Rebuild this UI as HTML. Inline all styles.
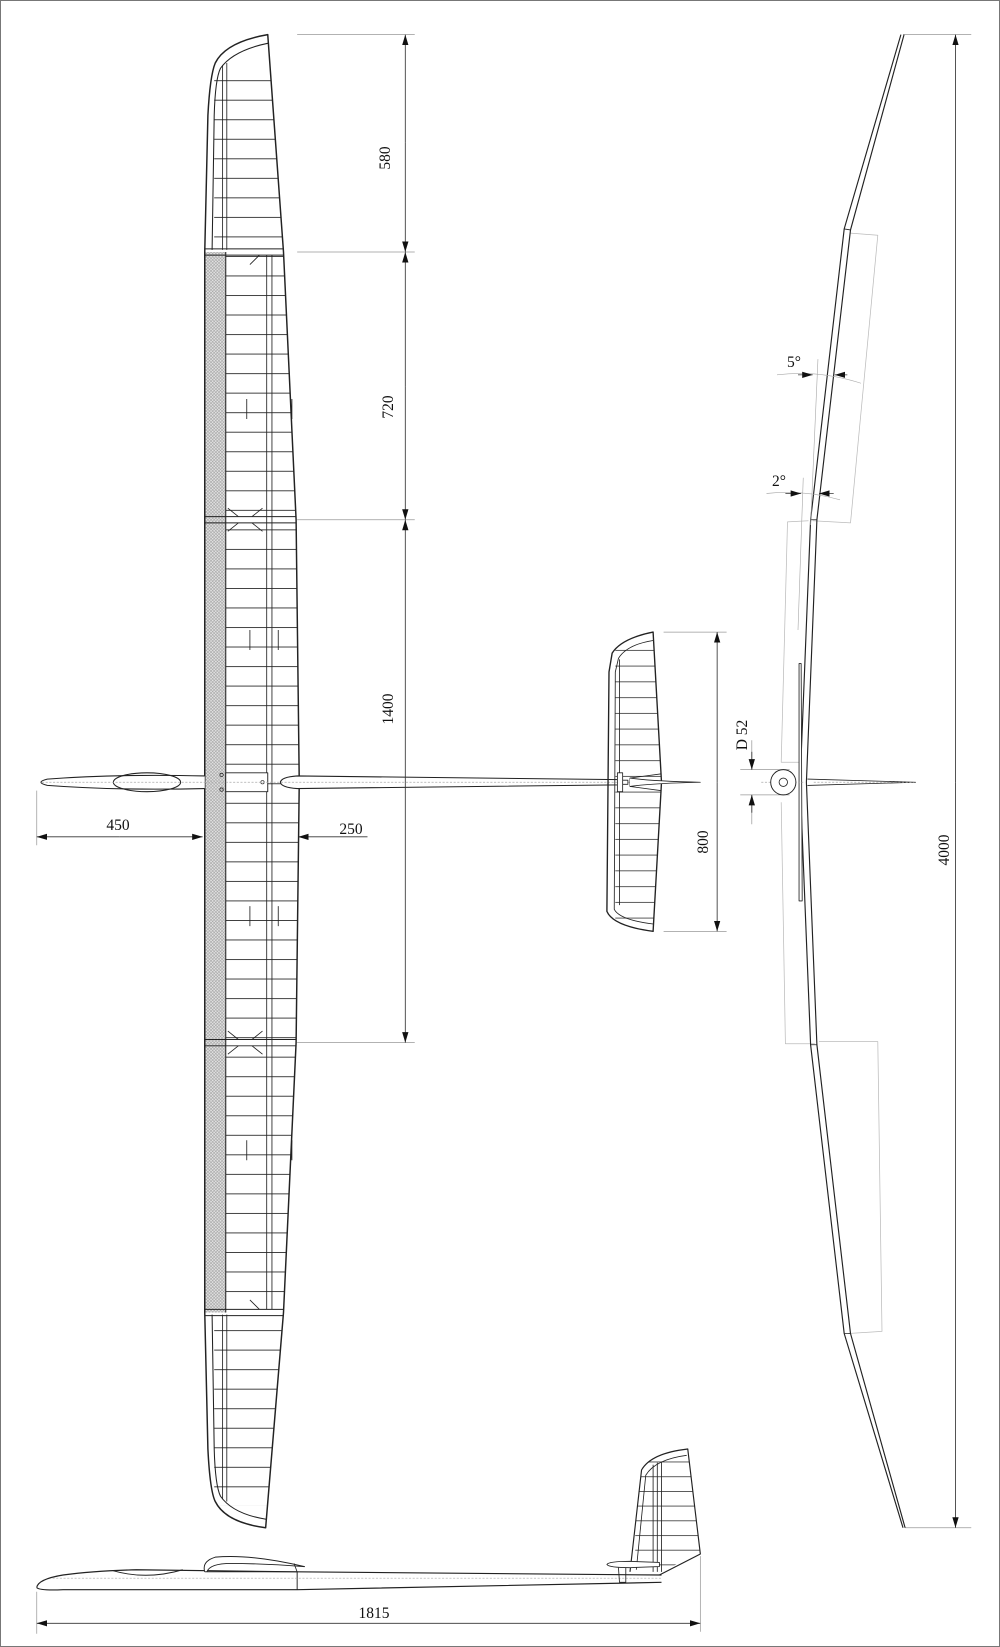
<!DOCTYPE html>
<html><head><meta charset="utf-8"><style>
html,body{margin:0;padding:0;background:#fff}
svg{display:block}
text{font-family:"Liberation Serif",serif;font-size:15.5px;fill:#111}
</style></head><body>
<svg width="1000" height="1647" viewBox="0 0 1000 1647" xmlns="http://www.w3.org/2000/svg">
<defs>
<pattern id="ribs" patternUnits="userSpaceOnUse" width="200" height="18.6" y="2">
<line x1="0" y1="0.4" x2="200" y2="0.4" stroke="#222" stroke-width="0.8"/>
</pattern>
<pattern id="ribs2" patternUnits="userSpaceOnUse" width="200" height="15" y="4">
<line x1="0" y1="0.4" x2="200" y2="0.4" stroke="#222" stroke-width="0.7"/>
</pattern>
<pattern id="ribs3" patternUnits="userSpaceOnUse" width="200" height="14" y="6">
<line x1="0" y1="0.4" x2="200" y2="0.4" stroke="#222" stroke-width="0.7"/>
</pattern>
<pattern id="hatch" patternUnits="userSpaceOnUse" width="3" height="3">
<rect width="3" height="3" fill="#e4e4e4"/>
<path d="M0,3L3,0M0,0L3,3" stroke="#999" stroke-width="0.5"/>
</pattern>
<marker id="ar" viewBox="0 0 10 6" refX="10" refY="3" markerWidth="10" markerHeight="7" orient="auto" markerUnits="userSpaceOnUse">
<path d="M0,0L10,3L0,6Z" fill="#111"/>
</marker>
<clipPath id="wingclip"><path d="M255,33 Q215,40 205,60 Q200,72 198,110 L195,240 L195,1250 L198,1380 Q200,1420 205,1430 Q215,1450 253,1455 L270,1250 L282,993 L285,745 L282,495 L270,240 Z"/></clipPath>
<clipPath id="stabclip"><path d="M622,602 Q592,608 583,622 L580,640 L578,868 Q584,882 622,887 L630,745 Z"/></clipPath>
<clipPath id="finclip"><path d="M600,1495 L611,1400 Q620,1384 655,1380 L667,1480 L628,1497 Z"/></clipPath>
</defs>
<rect x="0.5" y="0.5" width="999" height="1646" fill="#fff" stroke="#777" stroke-width="1"/>
<g transform="scale(1.05)" fill="none" stroke="#222" stroke-width="1" stroke-linejoin="round">

<g clip-path="url(#wingclip)">
<rect x="215" y="243" width="80" height="1004" fill="url(#ribs)" stroke="none"/>
<rect x="204" y="60" width="90" height="178" fill="url(#ribs)" stroke="none"/>
<rect x="204" y="1254" width="90" height="180" fill="url(#ribs)" stroke="none"/>
<rect x="195" y="240" width="20" height="1010" fill="url(#hatch)" stroke="none"/>
</g>
<path d="M255,33 Q215,40 205,60 Q200,72 198,110 L195,240 L195,1250 L198,1380 Q200,1420 205,1430 Q215,1450 253,1455 L270,1250 L282,993 L285,745 L282,495 L270,240 Z" stroke-width="1.4"/>
<path d="M256,41 Q222,48 210,65 Q205,75 204,110 L202,238"/>
<path d="M202,1252 L204,1380 Q205,1415 210,1425 Q222,1442 254,1447"/>
<path d="M212,62 L212,238 M216,60 L216,238 M212,1252 L212,1428 M216,1252 L216,1430" stroke-width="0.8"/>
<path d="M215,240 L215,1250" />
<path d="M254,243 L254,1247 M259,243 L259,1247" stroke-width="0.8"/>
<path d="M195,237 L270,237 M195,243 L270,243 M195,492 L282,492 M195,498 L282,498 M195,990 L282,990 M195,996 L282,996 M195,1247 L270,1247 M195,1253 L270,1253" stroke-width="0.9"/>
<path d="M217,484 L227,492 M217,506 L227,498 M250,484 L240,492 M250,506 L240,498 M217,982 L227,990 M217,1004 L227,996 M250,982 L240,990 M250,1004 L240,996 M238,252 L247,243 M238,1238 L247,1247" stroke-width="0.8"/>
<path d="M235,380 L235,399 M278,380 L278,399 M238,600 L238,619 M265,600 L265,619 M238,863 L238,882 M265,863 L265,882 M235,1086 L235,1105 M278,1086 L278,1105" stroke-width="0.8"/>
<rect x="215" y="736" width="40" height="18" fill="#fff" stroke-width="0.9"/>
<circle cx="211" cy="738" r="1.6" stroke-width="0.7"/>
<circle cx="211" cy="752" r="1.6" stroke-width="0.7"/>
<circle cx="250" cy="745" r="1.6" stroke-width="0.7"/>

<path d="M195,739 Q110,737 45,742 Q33,745 45,748 Q110,753 195,751" fill="#fff"/>
<ellipse cx="140" cy="745" rx="32" ry="9"/>
<path d="M283,739 L590,742.5 L590,747.5 L283,751 Q268,750 267,745 Q268,740 283,739 Z" fill="#fff"/>
<path d="M40,745 L590,745 M598,745 L660,745" stroke="#aaa" stroke-width="0.7" stroke-dasharray="2,1.5"/>

<g clip-path="url(#stabclip)">
<rect x="586" y="612" width="50" height="265" fill="url(#ribs2)" stroke="none"/>
</g>
<path d="M622,602 Q592,608 583,622 L580,640 L578,868 Q584,882 622,887 L630,745 Z" stroke-width="1.3"/>
<path d="M622,610 Q597,614 589,627 L586,640 L585,866 Q590,876 622,880" stroke-width="0.8"/>
<path d="M590,628 L590,862" stroke-width="0.8"/>
<rect x="588" y="736" width="5" height="18" fill="#fff" stroke-width="0.8"/>
<path d="M593,743 L598,743 L598,747 L593,747 M630,737 L600,741 L600,749 L630,753" stroke-width="0.8"/>
<path d="M600,741 Q620,744 667,745 Q620,746 600,749" stroke-width="0.8" fill="#fff"/>

<g stroke="#999" stroke-width="0.7">
<path d="M283,33 L395,33 M283,240 L395,240 M283,495 L395,495 M283,993 L395,993"/>
<path d="M35,753 L35,805 M632,602 L692,602 M632,887 L692,887"/>
<path d="M705,733 L752,733 M705,757 L752,757 M716,705 L716,733 M716,757 L716,785"/>
<path d="M860,33 L925,33 M862,1455 L925,1455"/>
</g>
<g stroke="#333" stroke-width="0.8">
<line x1="386" y1="136" x2="386" y2="33" marker-end="url(#ar)"/>
<line x1="386" y1="136" x2="386" y2="240" marker-end="url(#ar)"/>
<line x1="386" y1="368" x2="386" y2="240" marker-end="url(#ar)"/>
<line x1="386" y1="368" x2="386" y2="495" marker-end="url(#ar)"/>
<line x1="386" y1="745" x2="386" y2="495" marker-end="url(#ar)"/>
<line x1="386" y1="745" x2="386" y2="993" marker-end="url(#ar)"/>
<line x1="114" y1="797" x2="35" y2="797" marker-end="url(#ar)"/>
<line x1="114" y1="797" x2="193" y2="797" marker-end="url(#ar)"/>
<line x1="350" y1="797" x2="284" y2="797" marker-end="url(#ar)"/>
<line x1="683" y1="745" x2="683" y2="602" marker-end="url(#ar)"/>
<line x1="683" y1="745" x2="683" y2="887" marker-end="url(#ar)"/>
<line x1="716" y1="716" x2="716" y2="733" marker-end="url(#ar)"/>
<line x1="716" y1="774" x2="716" y2="757" marker-end="url(#ar)"/>
<line x1="910" y1="745" x2="910" y2="33" marker-end="url(#ar)"/>
<line x1="910" y1="745" x2="910" y2="1455" marker-end="url(#ar)"/>
</g>

<g stroke="#bbb" stroke-width="0.7">
<path d="M810,222 L836,224 L810,498 L774,496 M770,496 L750,497 L744,726 L762,726"/>
<path d="M744,764 L748,994 L776,994 M780,992 L836,992 L840,1268 L808,1270"/>
</g>
<path d="M858,33 L804,218 L772,495 L762,745 L772,995 L804,1270 L860,1455" stroke-width="1.1"/>
<path d="M861,33 L810,219 L778,495 L768,745 L778,995 L810,1270 L862,1455" stroke-width="1.1"/>
<path d="M804,218 L810,219 M772,495 L778,495 M772,995 L778,995 M804,1270 L810,1270" stroke-width="0.8"/>
<path d="M761,632 L763,632 L764,858 L761,858 Z" stroke-width="0.8" fill="#fff"/>
<path d="M769,742 L872,745 L769,748" stroke-width="0.8" fill="#fff"/>
<path d="M725,745 L765,745 M775,745 L870,745" stroke="#aaa" stroke-width="0.6" stroke-dasharray="2,1.5"/>
<circle cx="746" cy="745" r="12" fill="#fff" stroke-width="0.9"/>
<circle cx="746" cy="745" r="4" stroke-width="0.8"/>
<g stroke="#aaa" stroke-width="0.6">
<path d="M740,357 Q780,352 820,365 M779,342 L772,500 M730,470 Q765,466 800,476 M765,455 L760,600"/>
</g>
<g stroke="#333" stroke-width="0.7">
<line x1="760" y1="357" x2="774" y2="357" marker-end="url(#ar)"/>
<line x1="807" y1="357" x2="795" y2="357" marker-end="url(#ar)"/>
<line x1="748" y1="470" x2="763" y2="470" marker-end="url(#ar)"/>
<line x1="794" y1="470" x2="780" y2="470" marker-end="url(#ar)"/>
</g>

<path d="M35,1512 Q36,1504 60,1500 Q90,1496 130,1495 L283,1497 L630,1500 M35,1512 Q38,1515 60,1514 L283,1514 L630,1507" stroke-width="1.1"/>
<path d="M108,1496 Q140,1505 174,1495" stroke-width="0.9"/>
<path d="M195,1497 Q192,1487 205,1483 Q240,1480 290,1492 Q250,1489 220,1489 Q200,1489 197,1497" stroke-width="0.9" fill="#fff"/>
<path d="M195,1497 L283,1497 L280,1489" stroke-width="0.8"/>
<path d="M283,1497 L283,1514" stroke-width="0.9"/>
<path d="M50,1503 L630,1503" stroke="#aaa" stroke-width="0.6" stroke-dasharray="2,1.5"/>
<g clip-path="url(#finclip)"><rect x="605" y="1390" width="70" height="105" fill="url(#ribs3)" stroke="none"/></g>
<path d="M600,1497 L611,1400 Q620,1384 655,1380 L667,1480 L628,1500" stroke-width="1.1"/>
<path d="M606,1495 L615,1405 Q624,1390 654,1386" stroke-width="0.8"/>
<path d="M622,1395 L622,1497 M626,1393 L626,1497 M630,1392 L630,1497" stroke-width="0.8"/>
<path d="M578,1490 Q580,1487 600,1487 L628,1488 L628,1492 L600,1493 Q580,1493 578,1490 Z" fill="#fff" stroke-width="0.8"/>
<path d="M589,1493 L590,1507 L596,1507 L596,1493" stroke-width="0.8"/>
<path d="M35,1516 L35,1556 M667,1482 L667,1554" stroke="#999" stroke-width="0.7"/>
<g stroke="#333" stroke-width="0.8">
<line x1="350" y1="1546" x2="35" y2="1546" marker-end="url(#ar)"/>
<line x1="350" y1="1546" x2="667" y2="1546" marker-end="url(#ar)"/>
</g>
</g>

<g>
<text transform="translate(390,158) rotate(-90)" text-anchor="middle">580</text>
<text transform="translate(393,407) rotate(-90)" text-anchor="middle">720</text>
<text transform="translate(393,709) rotate(-90)" text-anchor="middle">1400</text>
<text x="118" y="830" text-anchor="middle">450</text>
<text x="351" y="834" text-anchor="middle">250</text>
<text transform="translate(708,842) rotate(-90)" text-anchor="middle">800</text>
<text transform="translate(747,735) rotate(-90)" text-anchor="middle">D 52</text>
<text transform="translate(949,850) rotate(-90)" text-anchor="middle">4000</text>
<text x="794" y="367" text-anchor="middle">5°</text>
<text x="779" y="486" text-anchor="middle">2°</text>
<text x="374" y="1618" text-anchor="middle">1815</text>
</g>
</svg>
</body></html>
